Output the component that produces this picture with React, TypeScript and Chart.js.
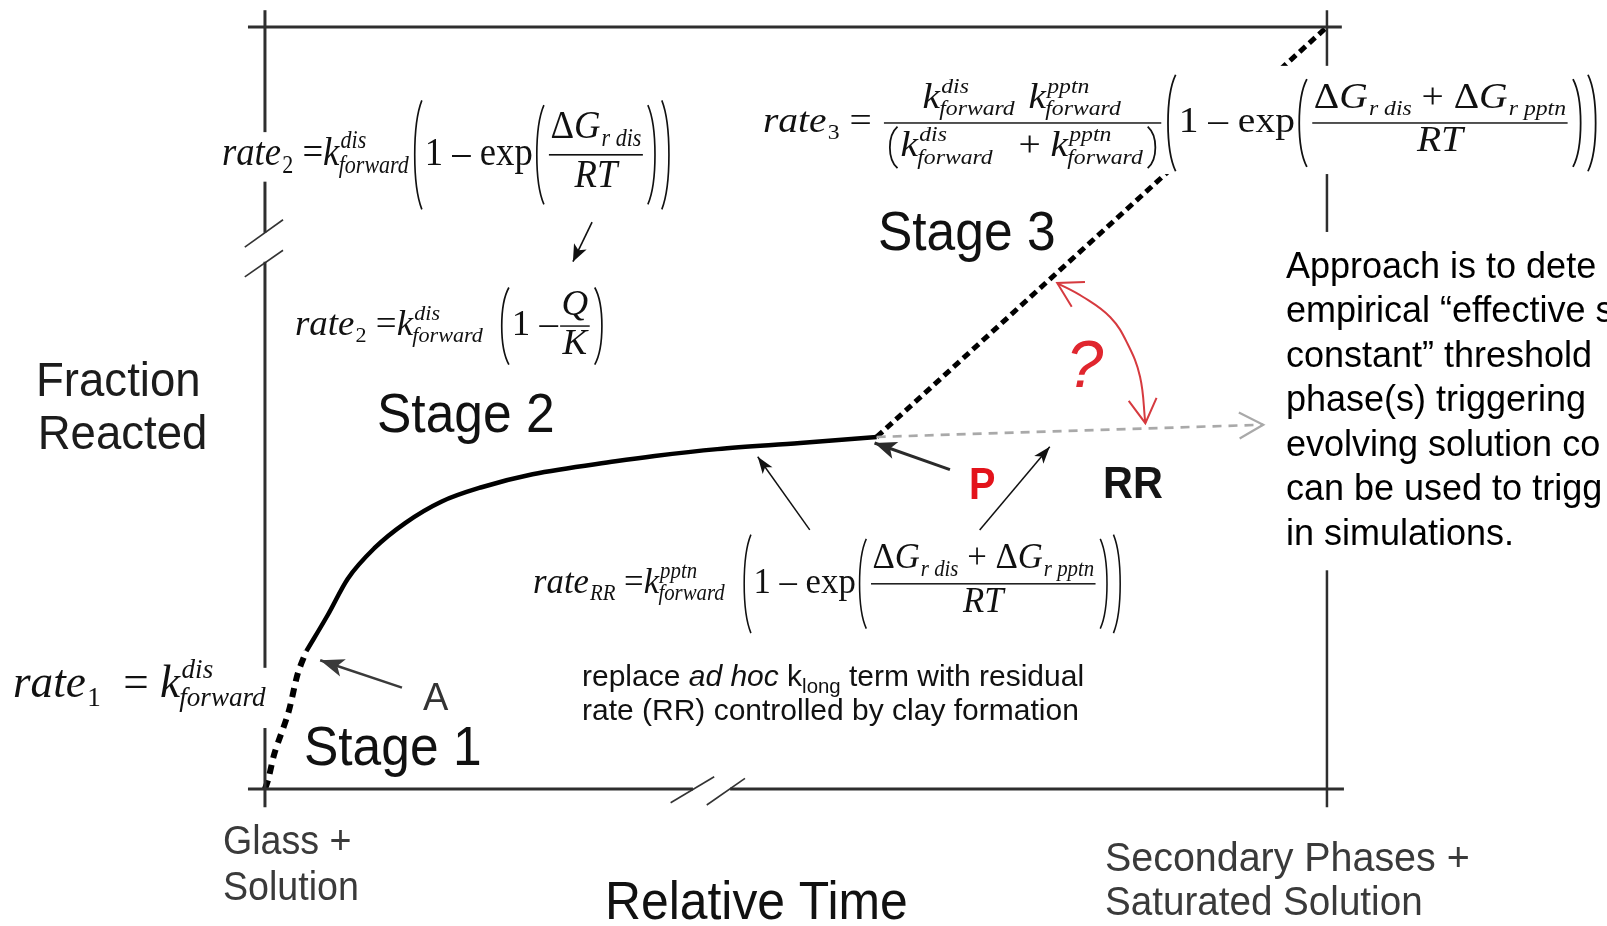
import React, { useEffect, useRef } from "react";
import { Chart, registerables } from "chart.js";

Chart.register(...registerables);

const SANS = '"Liberation Sans", Arial, Helvetica, sans-serif';
const SERIF = '"Liberation Serif", "Times New Roman", serif';

// ---- scale ranges (x: relative time, 0–100 across frame; y: fraction reacted, 0–100) ----
const X_MIN = -24.95;
const X_MAX = 126.37;
const Y_MIN = -17.98;
const Y_MAX = 103.54;

// ---- curve data ----
const stage1Time = [0, 0.3, 0.9, 2.2, 3.1, 3.9];
const stage1Frac = [0, 1.2, 4.7, 10.0, 15.2, 18.1];
const stage2Time = [3.9, 5.9, 7.8, 10.3, 13.2, 16.6, 20.4, 25.2, 33.0, 36.7, 42.6, 50.4, 57.6];
const stage2Frac = [18.1, 22.8, 27.6, 31.6, 34.9, 37.7, 39.6, 41.3, 43.0, 43.7, 44.6, 45.4, 46.2];
const stage3Time = [57.6, 100];
const stage3Frac = [46.2, 100];
const rrTime = [57.6, 94.0];
const rrFrac = [46.2, 47.8];
const questionTime = [74.6, 77.0, 79.6, 81.2, 82.4, 82.9];
const questionFrac = [66.4, 64.6, 61.9, 58.5, 54.1, 48.0];

// ---- frame (axis lines with breaks) ----
const frameTopTime = [-1.6, 101.4];
const frameTopFrac = [100, 100];
const frameBottomLeftTime = [-1.6, 40.3];
const frameBottomRightTime = [43.8, 101.6];
const frameBottomFrac = [0, 0];
const frameLeftTime = [0, 0];
const frameLeftLowFrac = [-2.4, 69.2];
const frameLeftHighFrac = [73.0, 102.2];
const frameRightTime = [100, 100];
const frameRightFrac = [-2.4, 102.2];
const breakYTimeA = [-1.9, 1.7];
const breakYFracA = [71.1, 74.7];
const breakYTimeB = [-1.9, 1.7];
const breakYFracB = [67.2, 70.7];
const breakXTimeA = [38.2, 42.3];
const breakXFracA = [-1.8, 1.6];
const breakXTimeB = [41.6, 45.2];
const breakXFracB = [-2.1, 1.4];

// ---- pointer arrows (tail -> tip) ----
const arrowRate2Time = [30.8, 29.0];
const arrowRate2Frac = [74.4, 69.2];
const arrowATime = [12.9, 5.2];
const arrowAFrac = [13.3, 16.9];
const arrowPTime = [64.5, 57.4];
const arrowPFrac = [41.9, 45.4];
const arrowRRLeftTime = [51.3, 46.4];
const arrowRRLeftFrac = [34.0, 43.6];
const arrowRRRightTime = [67.3, 73.9];
const arrowRRRightFrac = [34.0, 44.9];

const pts = (xs: number[], ys: number[]) => xs.map((x, i) => ({ x, y: ys[i] }));

function line(xs: number[], ys: number[], o: any = {}) {
  return {
    data: pts(xs, ys),
    showLine: true,
    fill: false,
    pointRadius: 0,
    pointHoverRadius: 0,
    borderColor: o.color || "#2b2b2b",
    backgroundColor: o.color || "#2b2b2b",
    borderWidth: o.width || 3,
    borderDash: o.dash || [],
    tension: o.tension || 0,
    cubicInterpolationMode: o.mono ? "monotone" : "default",
    borderCapStyle: o.cap || "butt",
    headEnd: o.headEnd,
    headStart: o.headStart,
  };
}

// ---- math typesetting ----
const T = (s: string, it = false) => ({ k: "t", s, it });
const I = (s: string) => T(s, true);
const SS = (b: any[], sup?: any[], sub?: any[]) => ({ k: "ss", b, sup, sub });
const FR = (n: any[], d: any[]) => ({ k: "fr", n, d });
const PA = (b: any[], pad = 0.1) => ({ k: "p", b, pad });
const SP = (w: number) => ({ k: "sp", w });

const kDis = () => SS([I("k")], [I("dis")], [I("forward")]);
const kPptn = () => SS([I("k")], [I("pptn")], [I("forward")]);
const dG = (s: string) => SS([T("Δ"), I("G")], undefined, [I(s)]);
const rateSub = (s: any) => SS([I("rate")], undefined, [s]);

const eqRate2 = [rateSub(T("2")), T(" ="), kDis(), PA([T("1 – exp"), PA([FR([dG("r dis")], [I("RT")])], 0.12)], 0.12)];
const eqRate2QK = [rateSub(T("2")), T(" ="), kDis(), SP(0.35), PA([T("1 –"), FR([I("Q")], [I("K")])], 0.1)];
const eqRate3 = [
  rateSub(T("3")),
  T(" = "),
  FR([kDis(), SP(0.3), kPptn()], [PA([kDis(), SP(0.6), T("+ "), kPptn()], 0.0)]),
  PA([T("1 – exp"), PA([FR([dG("r dis"), T(" + "), dG("r pptn")], [I("RT")])], 0.12)], 0.12),
];
const eqRateRR = [
  rateSub(I("RR")),
  T(" ="),
  kPptn(),
  SP(0.4),
  PA([T("1 – exp"), PA([FR([dG("r dis"), T(" + "), dG("r pptn")], [I("RT")])], 0.12)], 0.12),
];
const eqRate1 = [rateSub(T("1")), T("  = "), kDis()];

const equations = [
  { nodes: eqRate2, left: -4.05, right: 38.42, base: 81.89, size: 37, sy: 1.1 },
  { nodes: eqRate2QK, left: 2.82, right: 32.11, base: 59.58, size: 34, sy: 1.05 },
  { nodes: eqRate3, left: 46.89, right: 125.71, base: 86.22, size: 40, sy: 0.9 },
  { nodes: eqRateRR, left: 25.24, right: 80.89, base: 25.72, size: 35, sy: 1.05 },
  { nodes: eqRate1, left: -23.73, right: 0.28, base: 12.07, size: 46, sy: 1 },
];

// white backing boxes behind equations / text (x1, y1, x2, y2 in data units)
const patches = [
  [46.1, 94.9, 126.5, 80.7],
  [-4.4, 86.2, 2.35, 79.7],
  [-24.5, 15.9, 0.66, 8.0],
  [95.6, 73.1, 126.5, 28.7],
];

const approachLines = [
  "Approach is to dete",
  "empirical “effective s",
  "constant” threshold",
  "phase(s) triggering",
  "evolving solution co",
  "can be used to trigg",
  "in simulations.",
];
const approachBase = [67.06, 61.22, 55.38, 49.54, 43.7, 37.86, 32.02];

const labels: any[] = [
  { text: "Fraction", x: -21.56, y: 51.57, size: 49, sx: 0.93, color: "#1c1c1c" },
  { text: "Reacted", x: -21.4, y: 44.62, size: 49, sx: 0.93, color: "#1c1c1c" },
  { text: "Stage 1", x: 3.67, y: 3.15, size: 56, sx: 0.92, color: "#111" },
  { text: "Stage 2", x: 10.55, y: 46.85, size: 56, sx: 0.92, color: "#111" },
  { text: "Stage 3", x: 57.72, y: 70.73, size: 56, sx: 0.92, color: "#111" },
  { text: "Glass +", x: -3.95, y: -8.53, size: 40, sx: 0.94, color: "#3a3a3a" },
  { text: "Solution", x: -3.95, y: -14.57, size: 40, sx: 0.94, color: "#3a3a3a" },
  { text: "Relative Time", x: 32.02, y: -17.06, size: 53, sx: 0.94, color: "#111" },
  { text: "Secondary Phases +", x: 79.1, y: -10.76, size: 40, sx: 0.985, color: "#3a3a3a" },
  { text: "Saturated Solution", x: 79.1, y: -16.54, size: 40, sx: 0.965, color: "#3a3a3a" },
  { text: "P", x: 66.29, y: 38.06, size: 45, bold: true, sx: 0.88, color: "#e3131b" },
  { text: "RR", x: 78.91, y: 38.19, size: 45, bold: true, sx: 0.92, color: "#151515" },
  { text: "A", x: 14.88, y: 10.37, size: 38, sx: 1, color: "#333" },
  { text: "?", x: 77.2, y: 52.76, size: 66, it: true, align: "center", color: "#e0262e" },
  {
    runs: [{ s: "replace " }, { s: "ad hoc", it: true }, { s: " k" }, { s: "long", sub: true }, { s: " term with residual" }],
    x: 29.85, y: 13.52, size: 30, color: "#111",
  },
  { text: "rate (RR) controlled by clay formation", x: 29.85, y: 9.06, size: 30, color: "#111" },
  ...approachLines.map((t, i) => ({ text: t, x: 96.14, y: approachBase[i], size: 36, color: "#000" })),
];

function mfont(size: number, it: boolean) {
  return `${it ? "italic " : ""}${size}px ${SERIF}`;
}

function measureRow(ctx: CanvasRenderingContext2D, nodes: any[], size: number) {
  let w = 0, a = 0, d = 0;
  for (const n of nodes) {
    const b = measure(ctx, n, size);
    w += b.w; a = Math.max(a, b.a); d = Math.max(d, b.d);
  }
  return { w, a, d };
}

function measure(ctx: CanvasRenderingContext2D, n: any, size: number): { w: number; a: number; d: number } {
  if (n.k === "t") {
    ctx.font = mfont(size, n.it);
    return { w: ctx.measureText(n.s).width, a: size * 0.68, d: size * 0.2 };
  }
  if (n.k === "sp") return { w: n.w * size, a: 0, d: 0 };
  if (n.k === "ss") {
    const b = measureRow(ctx, n.b, size);
    const s = size * 0.6;
    const up = n.sup ? measureRow(ctx, n.sup, s) : null;
    const dn = n.sub ? measureRow(ctx, n.sub, s) : null;
    return {
      w: b.w + Math.max(up ? up.w : 0, dn ? dn.w : 0) + size * 0.03,
      a: Math.max(b.a, up ? size * 0.42 + up.a : 0),
      d: Math.max(b.d, dn ? size * 0.2 + dn.d : 0),
    };
  }
  if (n.k === "fr") {
    const nu = measureRow(ctx, n.n, size);
    const de = measureRow(ctx, n.d, size);
    const ax = size * 0.25, g = size * 0.1;
    return { w: Math.max(nu.w, de.w) + size * 0.2, a: ax + g + nu.d + nu.a, d: g + de.a + de.d - ax };
  }
  const b = measureRow(ctx, n.b, size);
  const ax = size * 0.25;
  const half = Math.max(b.a - ax, b.d + ax) + n.pad * size;
  return { w: b.w + size * 0.76, a: ax + half, d: half - ax };
}

function drawRow(ctx: CanvasRenderingContext2D, nodes: any[], x: number, y: number, size: number) {
  for (const n of nodes) {
    drawNode(ctx, n, x, y, size);
    x += measure(ctx, n, size).w;
  }
}

function drawNode(ctx: CanvasRenderingContext2D, n: any, x: number, y: number, size: number) {
  if (n.k === "t") {
    ctx.font = mfont(size, n.it);
    ctx.fillText(n.s, x, y);
    return;
  }
  if (n.k === "sp") return;
  if (n.k === "ss") {
    const b = measureRow(ctx, n.b, size);
    drawRow(ctx, n.b, x, y, size);
    const s = size * 0.6;
    const xo = x + b.w + size * 0.03;
    if (n.sup) drawRow(ctx, n.sup, xo, y - size * 0.42, s);
    if (n.sub) drawRow(ctx, n.sub, xo - (n.sup ? size * 0.05 : 0), y + size * 0.2, s);
    return;
  }
  if (n.k === "fr") {
    const nu = measureRow(ctx, n.n, size);
    const de = measureRow(ctx, n.d, size);
    const ax = size * 0.25, g = size * 0.1;
    const w = Math.max(nu.w, de.w) + size * 0.2;
    const lw = Math.max(1.2, size * 0.04);
    ctx.fillRect(x + size * 0.06, y - ax - lw / 2, w - size * 0.12, lw);
    drawRow(ctx, n.n, x + (w - nu.w) / 2, y - ax - g - nu.d, size);
    drawRow(ctx, n.d, x + (w - de.w) / 2, y - ax + g + de.a, size);
    return;
  }
  // parentheses
  const m = measure(ctx, n, size);
  const b = measureRow(ctx, n.b, size);
  const pw = size * 0.38;
  const top = y - m.a, bot = y + m.d, h = bot - top;
  ctx.lineWidth = Math.max(1.2, size * 0.045);
  ctx.beginPath();
  ctx.moveTo(x + pw * 0.8, top);
  ctx.bezierCurveTo(x + pw * 0.12, top + h * 0.22, x + pw * 0.12, bot - h * 0.22, x + pw * 0.8, bot);
  const rx = x + pw + b.w;
  ctx.moveTo(rx + pw * 0.2, top);
  ctx.bezierCurveTo(rx + pw * 0.88, top + h * 0.22, rx + pw * 0.88, bot - h * 0.22, rx + pw * 0.2, bot);
  ctx.stroke();
  drawRow(ctx, n.b, x + pw, y, size);
}

function drawHead(ctx: CanvasRenderingContext2D, from: any, to: any, head: any, color: string) {
  const ang = Math.atan2(to.y - from.y, to.x - from.x);
  const L = head.len, W = head.wid;
  const bx = to.x - L * Math.cos(ang), by = to.y - L * Math.sin(ang);
  const nx = -Math.sin(ang), ny = Math.cos(ang);
  ctx.save();
  ctx.strokeStyle = color;
  ctx.fillStyle = color;
  ctx.setLineDash([]);
  if (head.type === "filled") {
    ctx.beginPath();
    ctx.moveTo(to.x, to.y);
    ctx.lineTo(bx + nx * W, by + ny * W);
    ctx.lineTo(bx + (to.x - bx) * 0.25, by + (to.y - by) * 0.25);
    ctx.lineTo(bx - nx * W, by - ny * W);
    ctx.closePath();
    ctx.fill();
  } else {
    ctx.lineWidth = head.lw || 2;
    ctx.beginPath();
    ctx.moveTo(bx + nx * W, by + ny * W);
    ctx.lineTo(to.x, to.y);
    ctx.lineTo(bx - nx * W, by - ny * W);
    ctx.stroke();
  }
  ctx.restore();
}

const overlay = {
  id: "overlay",
  afterDatasetsDraw(chart: any) {
    const ctx: CanvasRenderingContext2D = chart.ctx;
    const xs = chart.scales.x, ys = chart.scales.y;
    const px = (v: number) => xs.getPixelForValue(v);
    const py = (v: number) => ys.getPixelForValue(v);

    chart.data.datasets.forEach((ds: any, i: number) => {
      const el = chart.getDatasetMeta(i).data;
      if (!el || el.length < 2) return;
      if (ds.headEnd) drawHead(ctx, el[el.length - 2], el[el.length - 1], ds.headEnd, ds.borderColor);
      if (ds.headStart) drawHead(ctx, el[1], el[0], ds.headStart, ds.borderColor);
    });

    ctx.save();
    ctx.fillStyle = "#ffffff";
    for (const r of patches) {
      ctx.fillRect(px(r[0]), py(r[1]), px(r[2]) - px(r[0]), py(r[3]) - py(r[1]));
    }
    ctx.restore();

    // text labels
    for (const lb of labels) {
      ctx.save();
      ctx.textBaseline = "alphabetic";
      ctx.fillStyle = lb.color || "#111";
      ctx.translate(px(lb.x), py(lb.y));
      ctx.scale(lb.sx || 1, 1);
      if (lb.runs) {
        let x = 0;
        for (const r of lb.runs) {
          const sz = r.sub ? lb.size * 0.68 : lb.size;
          ctx.font = `${r.it ? "italic " : ""}${sz}px ${SANS}`;
          ctx.fillText(r.s, x, r.sub ? lb.size * 0.25 : 0);
          x += ctx.measureText(r.s).width;
        }
      } else {
        ctx.font = `${lb.it ? "italic " : ""}${lb.bold ? "bold " : ""}${lb.size}px ${SANS}`;
        ctx.textAlign = lb.align || "left";
        ctx.fillText(lb.text, 0, 0);
      }
      ctx.restore();
    }

    // equations
    for (const eq of equations) {
      ctx.save();
      ctx.fillStyle = "#111";
      ctx.strokeStyle = "#111";
      ctx.textBaseline = "alphabetic";
      const m = measureRow(ctx, eq.nodes, eq.size);
      const target = px(eq.right) - px(eq.left);
      ctx.translate(px(eq.left), py(eq.base));
      ctx.scale(target / m.w, eq.sy);
      drawRow(ctx, eq.nodes, 0, 0, eq.size);
      ctx.restore();
    }
  },
};

function buildDatasets() {
  const frame = { color: "#2e2e2e", width: 3 };
  const slash = { color: "#333", width: 1.6 };
  return [
    line(frameTopTime, frameTopFrac, frame),
    line(frameBottomLeftTime, frameBottomFrac, frame),
    line(frameBottomRightTime, frameBottomFrac, frame),
    line(frameLeftTime, frameLeftLowFrac, frame),
    line(frameLeftTime, frameLeftHighFrac, frame),
    line(frameRightTime, frameRightFrac, { color: "#2e2e2e", width: 2.5 }),
    line(breakYTimeA, breakYFracA, slash),
    line(breakYTimeB, breakYFracB, slash),
    line(breakXTimeA, breakXFracA, slash),
    line(breakXTimeB, breakXFracB, slash),
    line(rrTime, rrFrac, { color: "#a9a9a9", width: 2.6, dash: [9, 7], headEnd: { type: "open", len: 24, wid: 13, lw: 2.2 } }),
    line(stage1Time, stage1Frac, { color: "#000", width: 6, dash: [9, 7], tension: 0.3 }),
    line(stage2Time, stage2Frac, { color: "#000", width: 4.5, mono: true }),
    line(stage3Time, stage3Frac, { color: "#000", width: 5, dash: [8, 5] }),
    line(questionTime, questionFrac, {
      color: "#d63a3f", width: 2, tension: 0.4,
      headEnd: { type: "open", len: 24, wid: 14, lw: 2 },
      headStart: { type: "open", len: 24, wid: 14, lw: 2 },
    }),
    line(arrowRate2Time, arrowRate2Frac, { color: "#111", width: 1.6, headEnd: { type: "filled", len: 17, wid: 7 } }),
    line(arrowATime, arrowAFrac, { color: "#3a3a3a", width: 2.6, headEnd: { type: "filled", len: 24, wid: 9 } }),
    line(arrowPTime, arrowPFrac, { color: "#2a2a2a", width: 3, headEnd: { type: "filled", len: 22, wid: 9 } }),
    line(arrowRRLeftTime, arrowRRLeftFrac, { color: "#111", width: 1.5, headEnd: { type: "filled", len: 17, wid: 6 } }),
    line(arrowRRRightTime, arrowRRRightFrac, { color: "#111", width: 1.5, headEnd: { type: "filled", len: 17, wid: 6 } }),
  ];
}

export default function App() {
  const ref = useRef<HTMLCanvasElement | null>(null);
  useEffect(() => {
    const canvas = ref.current;
    if (!canvas) return;
    const chart = new Chart(canvas, {
      type: "scatter",
      data: { datasets: buildDatasets() as any },
      options: {
        animation: false,
        responsive: true,
        maintainAspectRatio: false,
        devicePixelRatio: 1,
        events: [],
        layout: { padding: 0 },
        plugins: { legend: { display: false }, tooltip: { enabled: false }, title: { display: false } },
        scales: {
          x: { type: "linear", min: X_MIN, max: X_MAX, display: false },
          y: { type: "linear", min: Y_MIN, max: Y_MAX, display: false },
        },
      } as any,
      plugins: [overlay as any],
    });
    return () => chart.destroy();
  }, []);
  return (
    <div style={{ position: "fixed", left: 0, top: 0, width: "1607px", height: "926px", background: "#fff" }}>
      <canvas ref={ref} />
    </div>
  );
}
